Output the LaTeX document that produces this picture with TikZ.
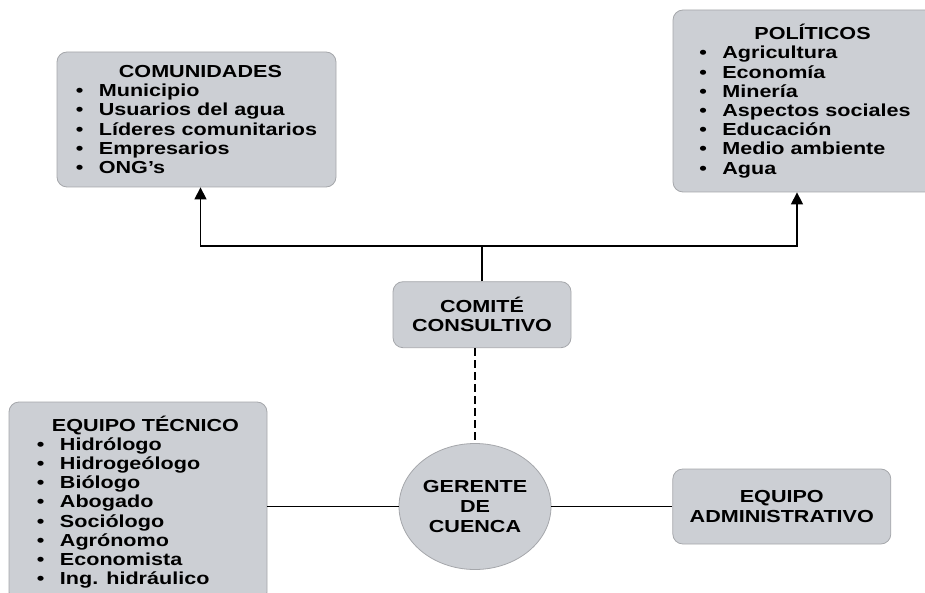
\documentclass[tikz,border=0pt]{standalone}
\usepackage{fontspec}
\setmainfont{Liberation Sans}[FakeStretch=1.24]
\usepackage{tikz}
\usetikzlibrary{positioning, arrows.meta, shapes.geometric}
\definecolor{boxFill}{RGB}{204,207,212}
\definecolor{boxEdge}{RGB}{165,167,171}
\tikzset{InfoBox/.style={%
    shape=rectangle,%
    rounded corners=10pt,%
    draw=boxEdge,%
    fill=boxFill,%
    line width=0.8pt,%
    inner sep=0pt,%
    align=left,%
    font=\fontsize{17.4}{19.2}\selectfont\bfseries,%
}}
\tikzset{CenterBox/.style={%
    InfoBox,%
    align=center,%
}}
\tikzset{ManagerNode/.style={%
    shape=ellipse,%
    draw=boxEdge,%
    fill=boxFill,%
    line width=0.8pt,%
    inner sep=0pt,%
    minimum width=152pt,%
    minimum height=126pt,%
    align=center,%
    font=\fontsize{17.4}{19.8}\selectfont\bfseries,%
}}
\tikzset{Connector/.style={%
    line width=1.3pt,%
}}
\tikzset{ArrowEdge/.style={%
    -{Triangle[width=12pt,length=12pt]},%
    line width=1.3pt,%
}}
\tikzset{DashedEdge/.style={%
    line width=1.2pt,%
    dash pattern=on 8pt off 4pt,%
}}
\NewDocumentCommand{\listTitle}{m m}{\hspace*{#1}#2}
\NewDocumentCommand{\listItem}{m}{\makebox[23pt][l]{\textbullet}#1}

\begin{document}
\begin{tikzpicture}[x=1pt, y=-1pt]
    \useasboundingbox (0,0) rectangle (925,593);

    \node[InfoBox, minimum width=279pt, minimum height=135pt] (comunidades) at (196.5,119.5) {%
        \listTitle{43pt}{COMUNIDADES}\\
        \listItem{Municipio}\\
        \listItem{Usuarios del agua}\\
        \listItem{Líderes comunitarios}\\
        \listItem{Empresarios}\\
        \listItem{ONG’s}};
    \node[InfoBox, minimum width=264pt, minimum height=182pt] (politicos) at (805,101) {%
        \listTitle{55pt}{POLÍTICOS}\\
        \listItem{Agricultura}\\
        \listItem{Economía}\\
        \listItem{Minería}\\
        \listItem{Aspectos sociales}\\
        \listItem{Educación}\\
        \listItem{Medio ambiente}\\
        \listItem{Agua}};
    \node[ManagerNode] (gerente) at (475,506.5) {GERENTE\\DE\\CUENCA};
    \node[CenterBox, minimum width=178pt, minimum height=66pt, above=95pt of gerente, xshift=7pt] (comite) {COMITÉ\\CONSULTIVO};
    \node[CenterBox, minimum width=218pt, minimum height=75pt, right=121pt of gerente] (admin) {EQUIPO\\ADMINISTRATIVO};
    \node[InfoBox, minimum width=258pt, minimum height=200pt] (tecnico) at (138,502) {%
        \listTitle{15pt}{EQUIPO TÉCNICO}\\
        \listItem{Hidrólogo}\\
        \listItem{Hidrogeólogo}\\
        \listItem{Biólogo}\\
        \listItem{Abogado}\\
        \listItem{Sociólogo}\\
        \listItem{Agrónomo}\\
        \listItem{Economista}\\
        \listItem{Ing. hidráulico}};

    \coordinate (bar) at (0,246);
    \draw[Connector] (comite.north) -- (comite.north |- bar);
    \draw[ArrowEdge] (comite.north |- bar) -| ([xshift=4pt]comunidades.south);
    \draw[ArrowEdge] (comite.north |- bar) -| ([xshift=-8pt]politicos.south);
    \draw[DashedEdge] (comite.south -| gerente.north) -- (gerente.north);
    \draw[Connector] (gerente.west -| tecnico.east) -- (gerente.west);
    \draw[Connector] (gerente.east) -- (admin.west);
\end{tikzpicture}
\end{document}
